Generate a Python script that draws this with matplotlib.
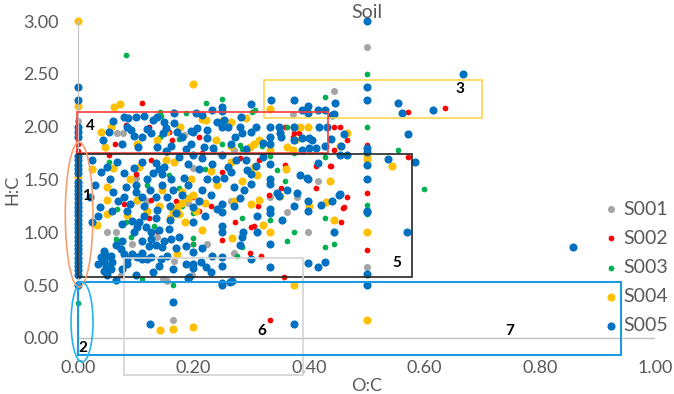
import matplotlib.pyplot as plt
import numpy as np
from matplotlib.patches import Rectangle, Ellipse

plt.rcParams['font.family'] = ['Lato', 'DejaVu Sans']

# (O:C, H:C)
s001 = [(0, 2.05), (0, 1.72), (0.5, 2.75), (0.5, 0.675), (0.444, 2.34), (0.373, 2.12),
        (0.416, 1.49), (0.067, 1.94), (0.078, 1.94), (0.184, 1.92), (0.27, 1.78),
        (0.155, 1.76), (0.1, 1.51), (0.2, 1.61), (0.137, 0.96), (0.066, 1.0), (0.094, 0.89),
        (0.074, 0.6), (0.148, 0.56), (0.154, 0.54), (0.165, 0.17), (0.197, 0.6),
        (0.166, 0.73), (0.223, 0.89), (0.265, 1.3), (0.27, 0.8), (0.25, 0.68), (0.333, 1.33),
        (0.379, 1.33), (0.362, 1.19), (0.398, 1.0), (0.19, 1.28), (0.12, 1.3), (0.05, 1.0)]

s002 = [(0, 1.84), (0, 1.77), (0.11, 2.22), (0.571, 2.14), (0.636, 2.18), (0.443, 2.0),
        (0.454, 2.0), (0.466, 1.87), (0.443, 1.78), (0.571, 1.71), (0.436, 1.63),
        (0.466, 1.33), (0.46, 1.24), (0.5, 1.83), (0.5, 1.37), (0.5, 0.835), (0.358, 2.0),
        (0.373, 1.9), (0.352, 1.95), (0.374, 1.94), (0.383, 1.94), (0.358, 1.64),
        (0.313, 1.68), (0.438, 1.63), (0.412, 1.63), (0.352, 1.42), (0.412, 1.42),
        (0.317, 0.78), (0.357, 0.58), (0.333, 0.17), (0.312, 1.25), (0.305, 1.06),
        (0.455, 1.1), (0.459, 1.23), (0.064, 1.84), (0.083, 2.02), (0.123, 2.0),
        (0.163, 1.87), (0.158, 1.95), (0.209, 1.9), (0.239, 2.04), (0.215, 1.75),
        (0.054, 1.73), (0.126, 1.68), (0.25, 1.57), (0.08, 1.27), (0.126, 1.31),
        (0.123, 1.14), (0.137, 1.01), (0.3, 1.05), (0.272, 1.1), (0.25, 0.93), (0.298, 0.8),
        (0.2, 1.33), (0.2, 0.89), (0.21, 1.2), (0.17, 1.3), (0.23, 1.25), (0.28, 1.7),
        (0.33, 1.35), (0.1, 1.55)]

s003 = [(0, 0.33), (0.083, 2.68), (0.142, 2.14), (0.165, 2.14), (0.25, 2.26), (0.307, 2.16),
        (0.428, 2.28), (0.5, 2.5), (0.5, 2.0), (0.5, 1.26), (0.5, 1.17), (0.554, 1.78),
        (0.6, 1.41), (0.333, 1.72), (0.358, 1.49), (0.362, 2.0), (0.333, 1.89),
        (0.318, 1.82), (0.374, 1.75), (0.428, 1.71), (0.345, 1.59), (0.144, 2.1),
        (0.142, 1.9), (0.222, 2.22), (0.302, 2.14), (0.187, 2.13), (0.175, 1.88),
        (0.25, 1.84), (0.284, 1.79), (0.236, 1.78), (0.237, 1.87), (0.28, 1.83),
        (0.054, 1.67), (0.158, 1.54), (0.175, 1.42), (0.068, 1.22), (0.083, 1.1),
        (0.132, 1.06), (0.066, 0.94), (0.092, 0.96), (0.111, 0.56), (0.165, 0.5),
        (0.2, 1.18), (0.2, 0.95), (0.2, 0.89), (0.284, 1.14), (0.275, 0.78), (0.284, 0.86),
        (0.31, 1.0), (0.333, 1.12), (0.362, 0.92), (0.374, 1.0), (0.428, 1.14),
        (0.428, 0.86), (0.443, 0.89), (0.1, 1.3), (0.12, 1.45), (0.18, 1.25), (0.22, 1.6)]

s004 = [(0, 3.0), (0, 2.2), (0, 1.52), (0.199, 2.40), (0.063, 2.19), (0.072, 2.21),
        (0.333, 2.17), (0.385, 2.0), (0.399, 2.0), (0.374, 2.0), (0.376, 1.87),
        (0.362, 1.81), (0.373, 1.78), (0.5, 1.71), (0.5, 1.69), (0.5, 1.0), (0.5, 0.17),
        (0.466, 1.94), (0.454, 1.82), (0.544, 1.63), (0.436, 1.49), (0.058, 2.0),
        (0.047, 1.81), (0.137, 1.87), (0.102, 1.84), (0.152, 1.95), (0.177, 2.0),
        (0.214, 2.07), (0.222, 2.06), (0.25, 2.05), (0.265, 2.04), (0.291, 2.08),
        (0.298, 1.81), (0.305, 1.84), (0.313, 1.87), (0.239, 1.87), (0.265, 1.82),
        (0.333, 1.78), (0.31, 1.54), (0.06, 1.61), (0.05, 1.43), (0.146, 1.4),
        (0.152, 1.68), (0.166, 1.67), (0.265, 1.67), (0.305, 1.62), (0.284, 1.49),
        (0.195, 1.5), (0.24, 1.45), (0.18, 1.38), (0.05, 1.31), (0.05, 1.17),
        (0.085, 1.16), (0.102, 1.31), (0.033, 1.07), (0.171, 0.79), (0.267, 0.95),
        (0.313, 1.31), (0.32, 1.07), (0.333, 1.0), (0.43, 1.29), (0.443, 1.12),
        (0.374, 0.5), (0.142, 0.076), (0.165, 0.085), (0.199, 0.1), (0.165, 1.2),
        (0.172, 1.24), (0.18, 1.28), (0.19, 1.32), (0.2, 1.35), (0.21, 1.3), (0.16, 1.14),
        (0.175, 1.17), (0.185, 1.1), (0.205, 1.2), (0.22, 1.28), (0.14, 1.25),
        (0.12, 1.2), (0.105, 1.62), (0.09, 1.5), (0.23, 1.58), (0.27, 1.3), (0.215, 1.02),
        (0.3, 1.27), (0.35, 1.34), (0.4, 1.25), (0.024, 1.6), (0.04, 1.95), (0.36, 1.6)]

s005 = [(0, 2.38), (0, 2.25), (0, 2.0), (0, 1.95), (0, 1.9), (0, 1.72), (0, 1.68), (0, 1.64),
        (0, 1.6), (0, 1.56), (0, 1.48), (0, 1.44), (0, 1.4), (0, 1.36), (0, 1.32), (0, 1.28),
        (0, 1.24), (0, 1.2), (0, 1.16), (0, 1.12), (0, 1.08), (0, 1.04), (0, 1.0), (0, 0.96),
        (0, 0.92), (0, 0.88), (0, 0.84), (0, 0.8), (0, 0.76), (0, 0.72), (0, 0.68),
        (0, 0.64), (0, 0.6), (0, 0.5),
        (0.5, 3.0), (0.5, 2.38), (0.5, 2.25), (0.5, 1.8), (0.5, 1.76), (0.5, 1.64),
        (0.5, 1.5), (0.5, 1.2), (0.5, 1.19), (0.5, 0.605), (0.5, 0.505),
        (0.666, 2.5), (0.554, 2.22), (0.561, 2.13), (0.615, 2.16), (0.445, 2.22),
        (0.44, 2.11), (0.46, 1.93), (0.571, 1.93), (0.537, 1.69), (0.583, 1.67),
        (0.454, 1.73), (0.466, 1.73), (0.454, 1.36), (0.57, 1.0), (0.857, 0.858),
        (0.125, 0.13), (0.165, 0.34), (0.374, 0.13), (0.25, 0.5), (0.263, 0.53),
        (0.333, 0.67), (0.19, 0.57),
        (0.334, 2.25), (0.374, 2.25), (0.388, 2.16), (0.399, 2.2), (0.416, 2.16),
        (0.428, 2.16), (0.443, 2.12), (0.30, 2.21), (0.232, 2.16), (0.25, 2.19),
        (0.25, 2.15), (0.399, 2.13),
        (0.08, 2.09), (0.087, 2.08), (0.1, 2.09), (0.115, 2.1), (0.13, 2.06), (0.137, 2.09),
        (0.149, 2.04), (0.152, 1.99), (0.166, 2.13), (0.166, 2.03), (0.171, 1.95),
        (0.195, 1.96), (0.206, 1.99), (0.204, 2.13), (0.215, 2.11), (0.2, 1.95),
        (0.223, 1.97), (0.224, 1.89), (0.252, 2.06), (0.25, 2.0), (0.26, 2.0), (0.28, 2.0),
        (0.282, 2.09), (0.272, 1.9), (0.284, 1.94), (0.265, 1.84), (0.291, 1.79),
        (0.234, 1.8), (0.218, 1.81), (0.195, 1.84), (0.187, 1.79), (0.161, 1.82),
        (0.147, 1.94), (0.18, 1.9), (0.085, 2.0), (0.054, 1.95), (0.043, 1.87),
        (0.076, 1.84), (0.092, 1.97), (0.097, 1.91), (0.104, 1.81), (0.111, 1.9),
        (0.126, 1.94), (0.137, 1.81), (0.153, 1.77), (0.308, 2.0), (0.333, 2.0),
        (0.348, 2.0), (0.374, 2.0), (0.417, 2.0), (0.431, 2.0), (0.352, 1.9), (0.35, 1.94),
        (0.388, 1.89), (0.4, 1.89), (0.438, 1.88), (0.333, 1.84), (0.374, 1.87),
        (0.388, 1.78), (0.4, 1.8), (0.413, 1.8), (0.428, 1.82), (0.455, 1.82),
        (0.405, 1.87), (0.333, 1.9), (0.06, 2.05), (0.12, 1.98), (0.24, 2.04),
        (0.3, 1.95), (0.32, 1.85),
        (0.04, 1.57), (0.068, 1.67), (0.08, 1.56), (0.083, 1.43), (0.097, 1.61),
        (0.111, 1.67), (0.135, 1.66), (0.14, 1.6), (0.146, 1.55), (0.03, 1.45),
        (0.02, 1.33), (0.055, 1.5), (0.06, 1.38), (0.07, 1.3), (0.038, 1.24),
        (0.059, 1.2), (0.08, 1.33), (0.085, 1.2), (0.111, 1.33), (0.135, 1.33),
        (0.137, 1.21), (0.094, 1.11), (0.076, 1.08), (0.105, 1.1), (0.114, 1.15),
        (0.135, 1.14), (0.118, 1.05), (0.126, 1.0), (0.14, 1.02), (0.102, 1.05),
        (0.097, 1.0), (0.1, 1.45), (0.12, 1.5), (0.125, 1.4), (0.1, 1.38), (0.05, 1.62),
        (0.025, 1.68), (0.115, 1.25), (0.09, 1.27), (0.145, 1.45), (0.13, 1.56),
        (0.025, 1.1), (0.035, 1.15),
        (0.149, 1.62), (0.161, 1.5), (0.175, 1.71), (0.2, 1.73), (0.232, 1.65),
        (0.25, 1.73), (0.274, 1.68), (0.291, 1.68), (0.293, 1.59), (0.265, 1.57),
        (0.27, 1.43), (0.253, 1.51), (0.223, 1.5), (0.239, 1.5), (0.215, 1.4),
        (0.184, 1.51), (0.287, 1.4), (0.3, 1.46), (0.21, 1.6), (0.19, 1.65), (0.165, 1.4),
        (0.18, 1.35), (0.2, 1.24), (0.21, 1.3), (0.23, 1.35), (0.25, 1.27), (0.25, 1.19),
        (0.25, 1.06), (0.25, 1.0), (0.286, 1.0), (0.284, 0.96), (0.158, 1.03),
        (0.175, 0.96), (0.161, 0.94), (0.149, 0.92), (0.2, 1.1), (0.22, 1.15),
        (0.24, 1.22), (0.27, 1.25), (0.28, 1.32), (0.19, 1.45), (0.16, 1.25),
        (0.17, 1.18), (0.16, 1.12), (0.3, 1.55), (0.26, 1.62), (0.215, 1.7), (0.155, 1.33),
        (0.32, 1.71), (0.308, 1.63), (0.385, 1.54), (0.333, 1.5), (0.333, 1.46),
        (0.397, 1.51), (0.362, 1.4), (0.379, 1.37), (0.344, 1.37), (0.399, 1.5),
        (0.416, 1.66), (0.348, 1.34), (0.374, 1.25), (0.333, 1.22), (0.333, 1.18),
        (0.353, 1.12), (0.398, 1.3), (0.398, 1.2), (0.42, 1.26), (0.443, 1.0), (0.31, 1.0),
        (0.333, 0.89), (0.452, 1.35), (0.333, 1.65), (0.44, 1.3), (0.31, 1.15),
        (0.2, 0.81), (0.2, 0.7), (0.2, 0.66), (0.045, 0.82), (0.05, 0.78), (0.045, 0.73),
        (0.048, 0.68), (0.045, 0.63), (0.057, 0.65), (0.059, 0.72), (0.057, 0.78),
        (0.074, 0.84), (0.08, 0.79), (0.085, 0.75), (0.094, 0.79), (0.102, 0.77),
        (0.111, 0.75), (0.12, 0.75), (0.126, 0.77), (0.144, 0.75), (0.085, 0.7),
        (0.076, 0.65), (0.1, 0.6), (0.14, 0.68), (0.05, 0.6), (0.035, 0.7), (0.04, 0.77),
        (0.065, 0.88), (0.076, 0.92), (0.126, 0.94), (0.123, 0.87), (0.145, 0.86),
        (0.135, 0.88), (0.11, 0.92), (0.154, 0.78), (0.187, 0.7), (0.213, 0.72),
        (0.222, 0.67), (0.23, 0.62), (0.192, 0.58), (0.232, 0.78), (0.215, 0.85),
        (0.187, 0.87), (0.25, 0.77), (0.25, 0.68), (0.25, 0.52), (0.267, 0.54),
        (0.398, 0.71), (0.416, 0.67), (0.428, 0.72), (0.165, 0.65), (0.17, 0.85),
        (0.28, 0.88), (0.3, 0.75), (0.065, 0.55), (0.11, 0.8), (0.13, 0.62)]

series = ['S001', 'S002', 'S003', 'S004', 'S005']
colors = ['#A5A5A5', '#FF0000', '#00B050', '#FFC000', '#0070C0']
sizes = [26, 17, 17, 34, 34]

fig = plt.figure(figsize=(6.74, 3.94), dpi=100)
ax = fig.add_axes([0.1157, 0.0886, 0.8568, 0.8581])

for name, pts, c, s in zip(series, [s001, s002, s003, s004, s005], colors, sizes):
    pts = np.array(pts)
    ax.scatter(pts[:, 0], pts[:, 1], s=s, color=c, label=name, linewidths=0,
               zorder=2, clip_on=False)

# annotated regions
boxes = [((0.322, 2.081), 0.378, 0.36, '#FFD54F', 1.2),
         ((-0.002, 1.75), 0.435, 0.388, '#FF3B3B', 1.2),
         ((0.0, 0.577), 0.578, 1.164, '#262626', 1.2),
         ((0.080, -0.350), 0.31, 1.107, '#D3D3D3', 1.2),
         ((0.0, -0.161), 0.940, 0.691, '#1E9BE0', 1.5)]
for (x0, y0), w, h, ec, lw in boxes:
    ax.add_patch(Rectangle((x0, y0), w, h, fill=False, ec=ec, lw=lw,
                           zorder=3, clip_on=False))
ax.add_patch(Ellipse((0.002, 1.168), 0.048, 1.37, fill=False, ec='#F4A070', lw=1.2,
                     zorder=3, clip_on=False))
ax.add_patch(Ellipse((0.007, 0.151), 0.038, 0.757, fill=False, ec='#22B5EE', lw=1.2,
                     zorder=3, clip_on=False))

labels = ['1', '2', '3', '4', '5', '6', '7']
label_x = [0.0139, 0.0087, 0.661, 0.021, 0.552, 0.319, 0.748]
label_y = [1.34, -0.095, 2.356, 2.006, 0.71, 0.066, 0.066]
for t, lx, ly in zip(labels, label_x, label_y):
    ax.text(lx, ly, t, fontsize=11, fontweight='bold', ha='center', va='center',
            zorder=4)

ax.set_xlim(0, 1.0)
ax.set_ylim(-0.2, 3.0)
ax.set_xticks(np.arange(0, 1.01, 0.2))
ax.set_yticks(np.arange(0, 3.01, 0.5))
ax.xaxis.set_major_formatter('{x:.2f}')
ax.yaxis.set_major_formatter('{x:.2f}')
ax.tick_params(axis='both', length=0, labelsize=13, labelcolor='#595959')
ax.tick_params(axis='y', pad=14)
ax.tick_params(axis='x', pad=1)

for side in ['top', 'right', 'bottom']:
    ax.spines[side].set_visible(False)
ax.spines['left'].set_bounds(0, 3)
ax.spines['left'].set_color('#BFBFBF')
ax.axhline(0, color='#BFBFBF', lw=1, zorder=1)

ax.set_title('Soil', fontsize=14, color='#595959', pad=1)
ax.set_xlabel('O:C', fontsize=13, color='#595959', labelpad=1)
ax.set_ylabel('H:C', fontsize=13, color='#595959', labelpad=2)

fig.legend(loc='center left', bbox_to_anchor=(0.877, 0.322), frameon=False,
           fontsize=14, labelcolor='#595959', handletextpad=0.15, labelspacing=0.62,
           borderpad=0, handlelength=1.0)

fig.savefig('out.png', dpi=100)
